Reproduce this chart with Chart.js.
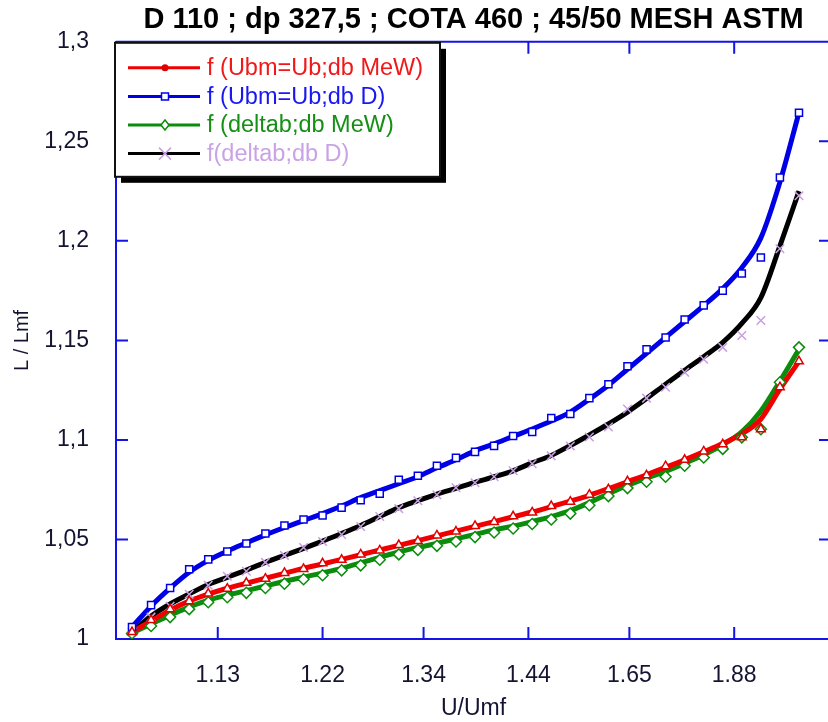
<!DOCTYPE html>
<html>
<head>
<meta charset="utf-8">
<script src="https://cdn.jsdelivr.net/npm/chart.js@4/dist/chart.umd.min.js"></script>
<style>
    html, body { margin: 0; padding: 0; overflow: hidden; background: #fff; }
</style>
</head>
<body>
<canvas id="grafik" width="840" height="722"></canvas>
<script>
// Data grafik
var nomorTitik = [1, 2, 3, 4, 5, 6, 7, 8, 9, 10, 11, 12, 13, 14, 15, 16, 17, 18,
    19, 20, 21, 22, 23, 24, 25, 26, 27, 28, 29, 30, 31, 32, 33, 34, 35, 36];

// label sumbu X (U/Umf) dan posisinya dalam nomor titik
var labelSumbuX = ["1.13", "1.22", "1.34", "1.44", "1.65", "1.88"];
var posisiLabelX = [5.5, 11, 16.3, 21.8, 27.1, 32.6];

var namaSeri = ["f (Ubm=Ub;db MeW)", "f (Ubm=Ub;db D)", "f (deltab;db MeW)", "f(deltab;db D)"];

// f (Ubm=Ub;db MeW) - merah
var garisUbmMeW = [1.0035, 1.009, 1.0145, 1.019, 1.0225, 1.0255, 1.028, 1.0305, 1.033, 1.0355, 1.0377, 1.040,
    1.0423, 1.0447, 1.047, 1.0494, 1.0518, 1.0542, 1.0566, 1.059, 1.0614, 1.0638, 1.0665, 1.0693,
    1.0722, 1.0755, 1.079, 1.0825, 1.0862, 1.09, 1.094, 1.0982, 1.103, 1.1105, 1.1255, 1.1395];
var titikUbmMeW = [1.0035, 1.0095, 1.015, 1.019, 1.0228, 1.0253, 1.0282, 1.0303, 1.0332, 1.0352, 1.038, 1.0398,
    1.0425, 1.0445, 1.0472, 1.0492, 1.052, 1.054, 1.0568, 1.0588, 1.0616, 1.0636, 1.0668, 1.069,
    1.0725, 1.0752, 1.0792, 1.0822, 1.0868, 1.09, 1.0942, 1.0978, 1.1013, 1.1054, 1.1265, 1.1395];

// f (Ubm=Ub;db D) - biru
var garisUbmD = [1.006, 1.0165, 1.0255, 1.0335, 1.0395, 1.0442, 1.0483, 1.0523, 1.056, 1.0595, 1.063, 1.0668,
    1.071, 1.0745, 1.078, 1.0815, 1.086, 1.09, 1.0945, 1.098, 1.1018, 1.1055, 1.1095, 1.114,
    1.1205, 1.1275, 1.1355, 1.1435, 1.1515, 1.1595, 1.1675, 1.176, 1.1865, 1.2015, 1.2295, 1.2645];
var titikUbmD = [1.006, 1.017, 1.0256, 1.035, 1.04, 1.044, 1.048, 1.053, 1.057, 1.06, 1.062, 1.066,
    1.0697, 1.073, 1.08, 1.082, 1.087, 1.091, 1.094, 1.097, 1.102, 1.104, 1.111, 1.113,
    1.121, 1.128, 1.137, 1.1455, 1.1515, 1.1605, 1.1676, 1.175, 1.1836, 1.1916, 1.2318, 1.2644];

// f (deltab;db MeW) - hijau
var garisDeltabMeW = [1.003, 1.0075, 1.012, 1.016, 1.0195, 1.022, 1.0243, 1.0266, 1.029, 1.031, 1.0332, 1.0355,
    1.0382, 1.041, 1.0437, 1.046, 1.048, 1.0503, 1.0525, 1.0548, 1.0567, 1.059, 1.0615, 1.0645,
    1.0685, 1.073, 1.0772, 1.0808, 1.0842, 1.0882, 1.0925, 1.0975, 1.104, 1.1145, 1.1295, 1.1455];
var titikDeltabMeW = [1.0028, 1.0065, 1.011, 1.015, 1.0185, 1.021, 1.0232, 1.0256, 1.0278, 1.03, 1.032, 1.0345,
    1.037, 1.0398, 1.0425, 1.0448, 1.0468, 1.049, 1.0512, 1.0535, 1.0555, 1.0578, 1.06, 1.063,
    1.0672, 1.0718, 1.0758, 1.079, 1.0815, 1.087, 1.0912, 1.0955, 1.1013, 1.1054, 1.129, 1.1465];

// f(deltab;db D) - hitam / silang ungu
var garisDeltabD = [1.0035, 1.0115, 1.0176, 1.0226, 1.0274, 1.031, 1.0346, 1.0385, 1.042, 1.0455, 1.0492, 1.053,
    1.057, 1.0615, 1.066, 1.0695, 1.0728, 1.0757, 1.0787, 1.0815, 1.0845, 1.0885, 1.0922, 1.0972,
    1.1025, 1.108, 1.114, 1.1208, 1.128, 1.135, 1.1418, 1.149, 1.1585, 1.1715, 1.1975, 1.225];
var titikDeltabD = [1.0035, 1.011, 1.0165, 1.0225, 1.027, 1.0315, 1.034, 1.0385, 1.042, 1.046, 1.049, 1.0525,
    1.0565, 1.0615, 1.0655, 1.0695, 1.0725, 1.076, 1.0785, 1.0815, 1.0845, 1.088, 1.092, 1.097,
    1.1015, 1.1065, 1.1155, 1.121, 1.1265, 1.134, 1.1405, 1.1465, 1.1525, 1.16, 1.196, 1.2227];

var warnaSumbu = "#1414e6";
var hurufDasar = "'Liberation Sans', Arial, sans-serif";

// gambar garis tepi atas/kanan dan tanda tick ke dalam
var tandaSumbu = {
    id: 'tandaSumbu',
    beforeDatasetsDraw: function (chart) {
        var ctx = chart.ctx;
        var area = chart.chartArea;
        var sx = chart.scales.x;
        var sy = chart.scales.y;
        ctx.save();
        ctx.strokeStyle = warnaSumbu;
        ctx.lineWidth = 2;
        ctx.beginPath();
        ctx.moveTo(area.left, area.top);
        ctx.lineTo(area.right, area.top);
        ctx.lineTo(area.right, area.bottom);
        sx.ticks.forEach(function (t) {
            var px = sx.getPixelForValue(t.value);
            ctx.moveTo(px, area.bottom);
            ctx.lineTo(px, area.bottom - 12);
            ctx.moveTo(px, area.top);
            ctx.lineTo(px, area.top + 12);
        });
        sy.ticks.forEach(function (t) {
            var py = sy.getPixelForValue(t.value);
            ctx.moveTo(area.left, py);
            ctx.lineTo(area.left + 12, py);
            ctx.moveTo(area.right, py);
            ctx.lineTo(area.right - 12, py);
        });
        ctx.stroke();
        ctx.restore();
    }
};

// simbol kecil di legenda
function gambarSimbol(ctx, gaya, x, y, warna) {
    ctx.save();
    ctx.strokeStyle = warna;
    ctx.fillStyle = warna;
    ctx.lineWidth = 1.5;
    ctx.beginPath();
    if (gaya === 'circle') {
        ctx.arc(x, y, 3.5, 0, Math.PI * 2);
        ctx.fill();
    } else if (gaya === 'rect') {
        ctx.fillStyle = "#fff";
        ctx.rect(x - 3.5, y - 3.5, 7, 7);
        ctx.fill();
        ctx.stroke();
    } else if (gaya === 'rectRot') {
        ctx.fillStyle = "#fff";
        ctx.moveTo(x, y - 5);
        ctx.lineTo(x + 4, y);
        ctx.lineTo(x, y + 5);
        ctx.lineTo(x - 4, y);
        ctx.closePath();
        ctx.fill();
        ctx.stroke();
    } else {
        ctx.moveTo(x - 6, y - 6);
        ctx.lineTo(x + 6, y + 6);
        ctx.moveTo(x + 6, y - 6);
        ctx.lineTo(x - 6, y + 6);
        ctx.stroke();
    }
    ctx.restore();
}

// kotak legenda dengan bayangan
var kotakLegenda = {
    id: 'kotakLegenda',
    afterDraw: function (chart) {
        var ctx = chart.ctx;
        var area = chart.chartArea;
        var x0 = area.left - 1, y0 = area.top + 1, w = 325, h = 134;
        var gaya = ['circle', 'rect', 'rectRot', 'crossRot'];
        var warnaGaris = ["#f00000", "#0000e6", "#0c8c0c", "#000000"];
        var warnaSimbol = ["#e00000", "#0000e6", "#0c8c0c", "#c8a0e0"];
        var warnaTeks = ["#f01818", "#1818f0", "#159015", "#c9a3e6"];
        ctx.save();
        ctx.fillStyle = "#000";
        ctx.fillRect(x0 + 6, y0 + 6, w, h);
        ctx.fillStyle = "#fff";
        ctx.fillRect(x0, y0, w, h);
        ctx.strokeStyle = "#111";
        ctx.lineWidth = 2;
        ctx.strokeRect(x0, y0, w, h);
        ctx.font = "23.5px " + hurufDasar;
        ctx.textBaseline = "middle";
        for (var i = 0; i < namaSeri.length; i++) {
            var y = y0 + 25 + i * 28.6;
            ctx.strokeStyle = warnaGaris[i];
            ctx.lineWidth = 3;
            ctx.beginPath();
            ctx.moveTo(x0 + 13, y);
            ctx.lineTo(x0 + 85, y);
            ctx.stroke();
            gambarSimbol(ctx, gaya[i], x0 + 50, y, warnaSimbol[i]);
            ctx.fillStyle = warnaTeks[i];
            ctx.fillText(namaSeri[i], x0 + 92, y + 1);
        }
        ctx.restore();
    }
};

function seriGaris(data, warna) {
    return {
        data: data,
        borderColor: warna,
        borderWidth: 5,
        pointRadius: 0,
        cubicInterpolationMode: 'monotone',
        fill: false,
        order: 2
    };
}

function seriTitik(data, warna, gaya, ukuran) {
    return {
        data: data,
        showLine: false,
        borderColor: warna,
        backgroundColor: "#fff",
        pointBorderWidth: 1.5,
        pointStyle: gaya,
        pointRadius: ukuran,
        order: 1
    };
}

var ctxGrafik = document.getElementById("grafik").getContext("2d");
var grafik = new Chart(ctxGrafik, {
    type: "line",
    data: {
        labels: nomorTitik,
        datasets: [
            seriGaris(garisUbmMeW, "#f00000"),
            seriGaris(garisUbmD, "#0000e6"),
            seriGaris(garisDeltabMeW, "#0c8c0c"),
            seriGaris(garisDeltabD, "#000000"),
            seriTitik(titikUbmMeW, "#e00000", 'triangle', 5),
            seriTitik(titikUbmD, "#0000e6", 'rect', 5),
            seriTitik(titikDeltabMeW, "#0c8c0c", 'rectRot', 5.5),
            seriTitik(titikDeltabD, "#c8a0e0", 'crossRot', 6)
        ]
    },
    options: {
        responsive: false,
        animation: false,
        layout: { padding: { left: 0, right: 9, top: 0, bottom: 0 } },
        plugins: {
            legend: { display: false },
            tooltip: { enabled: false },
            title: {
                display: true,
                fullSize: false,
                text: "D 110 ; dp 327,5 ; COTA 460 ; 45/50 MESH ASTM",
                color: "#000",
                font: { family: hurufDasar, size: 29, weight: 'bold' },
                padding: { top: 3, bottom: 4 }
            }
        },
        scales: {
            x: {
                type: 'linear',
                min: 0.16,
                max: 37.68,
                grid: { display: false },
                border: { display: true, color: warnaSumbu, width: 2 },
                afterBuildTicks: function (scale) {
                    scale.ticks = posisiLabelX.map(function (v) { return { value: v }; });
                },
                afterFit: function (scale) { scale.height = 83; },
                ticks: {
                    autoSkip: false,
                    maxRotation: 0,
                    padding: 15,
                    color: "#141432",
                    font: { family: hurufDasar, size: 23 },
                    callback: function (value, index) { return labelSumbuX[index]; }
                },
                title: {
                    display: true,
                    text: "U/Umf",
                    color: "#141432",
                    font: { family: hurufDasar, size: 23 },
                    padding: { top: 0, bottom: 0 }
                }
            },
            y: {
                min: 1,
                max: 1.3,
                grid: { display: false },
                border: { display: true, color: warnaSumbu, width: 2 },
                afterFit: function (scale) { scale.width = 116; },
                ticks: {
                    stepSize: 0.05,
                    padding: 19,
                    color: "#141432",
                    font: { family: hurufDasar, size: 23 },
                    callback: function (value) {
                        return String(Number(value.toFixed(2))).replace(".", ",");
                    }
                },
                title: {
                    display: true,
                    text: "L / Lmf",
                    color: "#141432",
                    font: { family: hurufDasar, size: 20 },
                    padding: { top: 10, bottom: 0 }
                }
            }
        }
    },
    plugins: [tandaSumbu, kotakLegenda]
});
// End grafik
</script>
</body>
</html>
